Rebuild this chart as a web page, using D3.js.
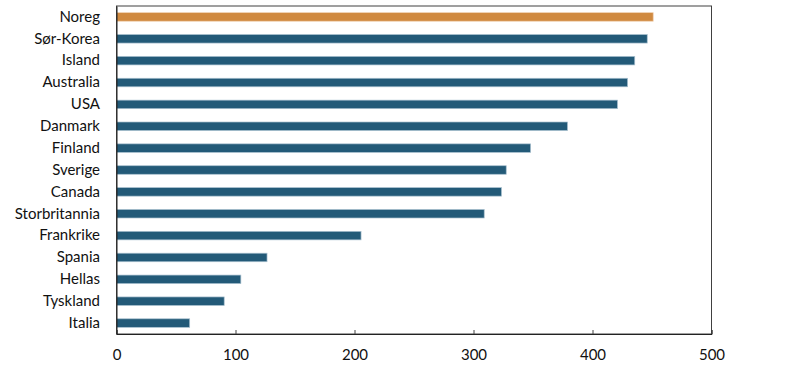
<!DOCTYPE html>
<html><head><meta charset="utf-8">
<script src="https://cdn.jsdelivr.net/npm/d3@7"></script>
<style>body{margin:0;background:#fff}</style>
</head><body>
<svg id="c" width="797" height="365"></svg>
<script>
const categories = ["Noreg","Sør-Korea","Island","Australia","USA","Danmark","Finland","Sverige","Canada","Storbritannia","Frankrike","Spania","Hellas","Tyskland","Italia"];
const values = [451,446,435.5,429.5,421,379,348,327.5,323.5,309,205.5,126.5,104.5,90.5,61.5];
const xTicks = [0,100,200,300,400,500];
const highlight = "Noreg";

const svg = d3.select("#c");
const mLeft = 116.5, mRight = 711.5, mTop = 6, mBottom = 334;
const x = d3.scaleLinear().domain([0,500]).range([mLeft,mRight]);
const y = d3.scaleBand().domain(categories).range([mTop,mBottom]).paddingInner(0.61).paddingOuter(0.305);
const font = "Lato, 'Open Sans', sans-serif";

svg.append("g").selectAll("rect").data(categories).join("rect")
  .attr("x", x(0)).attr("y", d=>y(d))
  .attr("width", (d,i)=>x(values[i])-x(0)).attr("height", y.bandwidth())
  .attr("fill", d=>d===highlight?"#d08a40":"#235a78")
  .attr("stroke", d=>d===highlight?"#f0d0b0":"#a9c0cf").attr("stroke-width",0.7);

svg.append("rect").attr("x",mLeft).attr("y",mTop).attr("width",mRight-mLeft).attr("height",mBottom-mTop)
  .attr("fill","none").attr("stroke","#404040").attr("stroke-width",1);

const xa = svg.append("g").attr("transform",`translate(0,${mBottom})`)
  .call(d3.axisBottom(x).tickValues(xTicks).tickSize(-4).tickPadding(15).tickFormat(d3.format("d")));
xa.select(".domain").attr("stroke","#222");
xa.selectAll(".tick line").attr("stroke","#444");
xa.selectAll("text").attr("font-family",font).attr("font-size",15).attr("fill","#111");

const ya = svg.append("g").attr("transform",`translate(${mLeft},0)`)
  .call(d3.axisLeft(y).tickSize(0).tickPadding(16.5));
ya.select(".domain").attr("stroke","#222");
ya.selectAll("text").attr("font-family",font).attr("font-size",15).attr("fill","#111");
</script>
</body></html>
